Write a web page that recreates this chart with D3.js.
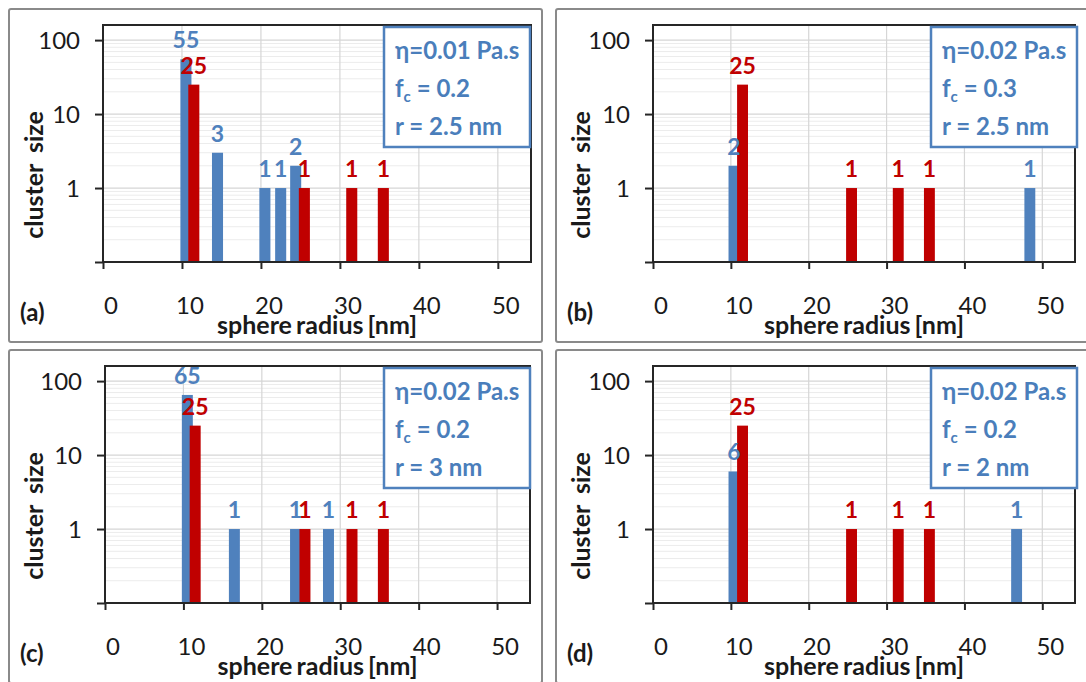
<!DOCTYPE html>
<html><head><meta charset="utf-8">
<script src="https://cdn.jsdelivr.net/npm/d3@7"></script>
<style>
body{margin:0;background:#fff;}
svg{display:block;font-family:Lato,"Open Sans",sans-serif;}
</style>
</head><body>
<svg id="chart" width="1086" height="682"></svg>
<script>
// ---- data ----
const xTicks = [0, 10, 20, 30, 40, 50];
const yTicks = [1, 10, 100];
const yTickLabels = ["1", "10", "100"];
const panelLabels = ["(a)", "(b)", "(c)", "(d)"];
const viscosityText = ["η=0.01 Pa.s", "η=0.02 Pa.s", "η=0.02 Pa.s", "η=0.02 Pa.s"];
const fcText = ["0.2", "0.3", "0.2", "0.2"];
const rText = ["2.5 nm", "2.5 nm", "3 nm", "2 nm"];
const xTitle = "sphere radius [nm]";
const yTitle = "cluster size";

const blueRadiusA = [10.5, 14.5, 20.5, 22.5, 24.4];
const blueSizeA   = [55, 3, 1, 1, 2];
const blueRadiusB = [10.4, 48.4];
const blueSizeB   = [2, 1];
const blueRadiusC = [10.5, 16.5, 24.3, 28.5];
const blueSizeC   = [65, 1, 1, 1];
const blueRadiusD = [10.4, 46.7];
const blueSizeD   = [6, 1];
const redRadius   = [11.5, 25.5, 31.5, 35.5];
const redSizeA    = [25, 1, 1, 1];
const redSizeB    = [25, 1, 1, 1];
const redSizeC    = [25, 1, 1, 1];
const redSizeD    = [25, 1, 1, 1];

const blueRadius = [blueRadiusA, blueRadiusB, blueRadiusC, blueRadiusD];
const blueSize = [blueSizeA, blueSizeB, blueSizeC, blueSizeD];
const redSize = [redSizeA, redSizeB, redSizeC, redSizeD];

// ---- layout ----
const origins = [[9, 9], [556, 9], [9, 350], [556, 350]];
const plotLeft = [94, 97, 96, 97];
const plotRight = [522, 519, 521, 519];
const frameW = 533, frameH = 333;
const plotTop = 16, plotBottom = 253;
const BLUE = "#4f81bd", RED = "#c00000";
const barHalf = 0.7;

const svg = d3.select("#chart");

for (let p = 0; p < 4; p++) {
  const g = svg.append("g").attr("transform", `translate(${origins[p][0]},${origins[p][1]})`);
  g.append("rect").attr("x", 0).attr("y", 0).attr("width", frameW).attr("height", frameH)
    .attr("rx", 2).attr("fill", "#fff").attr("stroke", "#8a8a8a").attr("stroke-width", 2);

  const x = d3.scaleLinear().domain([0, 54.2]).range([plotLeft[p], plotRight[p]]);
  const y = d3.scaleLog().domain([0.1, 160]).range([plotBottom, plotTop]);

  // minor horizontal grid
  const minor = [];
  [0.1, 1, 10, 100].forEach(d => { for (let k = 2; k <= 9; k++) { const v = d * k; if (v < 160) minor.push(v); } });
  g.append("g").selectAll("line").data(minor).join("line")
    .attr("x1", plotLeft[p]).attr("x2", plotRight[p])
    .attr("y1", d => y(d)).attr("y2", d => y(d))
    .attr("stroke", "#ececec").attr("stroke-width", 1);
  // major horizontal grid
  g.append("g").selectAll("line").data(yTicks).join("line")
    .attr("x1", plotLeft[p]).attr("x2", plotRight[p])
    .attr("y1", d => y(d)).attr("y2", d => y(d))
    .attr("stroke", "#d6d6d6").attr("stroke-width", 1.2);
  // vertical grid
  g.append("g").selectAll("line").data(xTicks.slice(1)).join("line")
    .attr("x1", d => x(d)).attr("x2", d => x(d))
    .attr("y1", plotTop).attr("y2", plotBottom)
    .attr("stroke", "#d6d6d6").attr("stroke-width", 1.2);

  // bars
  const blue = blueRadius[p].map((r, i) => ({ r, v: blueSize[p][i] }));
  const red = redRadius.map((r, i) => ({ r, v: redSize[p][i] }));
  g.append("g").selectAll("rect").data(blue).join("rect")
    .attr("x", d => x(d.r - barHalf)).attr("width", d => x(d.r + barHalf) - x(d.r - barHalf))
    .attr("y", d => y(d.v)).attr("height", d => plotBottom - y(d.v)).attr("fill", BLUE);
  g.append("g").selectAll("rect").data(red).join("rect")
    .attr("x", d => x(d.r - barHalf)).attr("width", d => x(d.r + barHalf) - x(d.r - barHalf))
    .attr("y", d => y(d.v)).attr("height", d => plotBottom - y(d.v)).attr("fill", RED);

  // plot border
  g.append("rect").attr("x", plotLeft[p]).attr("y", plotTop)
    .attr("width", plotRight[p] - plotLeft[p]).attr("height", plotBottom - plotTop)
    .attr("fill", "none").attr("stroke", "#262626").attr("stroke-width", 2);

  // axes
  const yAxis = d3.axisLeft(y).tickValues([0.1, 1, 10, 100]).tickSize(8).tickFormat("");
  const ya = g.append("g").attr("transform", `translate(${plotLeft[p]},0)`).call(yAxis);
  ya.select(".domain").remove();
  ya.selectAll("line").attr("stroke", "#262626").attr("stroke-width", 2);
  const xAxis = d3.axisBottom(x).tickValues(xTicks).tickSize(7).tickFormat("");
  const xa = g.append("g").attr("transform", `translate(0,${plotBottom})`).call(xAxis);
  xa.select(".domain").remove();
  xa.selectAll("line").attr("stroke", "#262626").attr("stroke-width", 2);

  // tick labels
  g.append("g").selectAll("text").data(yTicks).join("text")
    .attr("x", plotLeft[p] - 23).attr("y", d => y(d)).attr("dy", "0.36em")
    .attr("text-anchor", "end").attr("font-size", 24).attr("fill", "#1a1a1a")
    .text((d, i) => yTickLabels[i]);
  g.append("g").selectAll("text").data(xTicks).join("text")
    .attr("x", d => x(d) + 8).attr("y", 305)
    .attr("text-anchor", "middle").attr("font-size", 24).attr("fill", "#1a1a1a")
    .text(d => d);

  // titles
  g.append("text").attr("x", (plotLeft[p] + plotRight[p]) / 2).attr("y", 325)
    .attr("text-anchor", "middle").attr("font-size", 25).attr("font-weight", "bold")
    .attr("fill", "#1a1a1a").attr("word-spacing", -2).text(xTitle);
  g.append("text").attr("transform", "translate(34,166) rotate(-90)")
    .attr("text-anchor", "middle").attr("font-size", 25).attr("font-weight", "bold")
    .attr("fill", "#1a1a1a").attr("word-spacing", 5).text(yTitle);
  g.append("text").attr("x", 11).attr("y", 312).attr("font-size", 24).attr("font-weight", "bold")
    .attr("fill", "#1a1a1a").text(panelLabels[p]);

  // bar labels
  g.append("g").selectAll("text").data(blue).join("text")
    .attr("x", d => x(d.r)).attr("y", d => y(d.v) - 11)
    .attr("text-anchor", "middle").attr("font-size", 23).attr("font-weight", "bold")
    .attr("fill", BLUE).text(d => d.v);
  g.append("g").selectAll("text").data(red).join("text")
    .attr("x", d => x(d.r)).attr("y", d => y(d.v) - 11)
    .attr("text-anchor", "middle").attr("font-size", 23).attr("font-weight", "bold")
    .attr("fill", RED).text(d => d.v);

  // legend box
  const lx = 375, ly = 18, lw = 146, lh = 120;
  g.append("rect").attr("x", lx).attr("y", ly).attr("width", lw).attr("height", lh)
    .attr("fill", "#fff").attr("stroke", BLUE).attr("stroke-width", 2.5);
  const tcol = "#4a7ebb";
  g.append("text").attr("x", lx + 11).attr("y", 50).attr("font-size", 24).attr("font-weight", "bold")
    .attr("fill", tcol).text(viscosityText[p]);
  const fc = g.append("text").attr("x", lx + 11).attr("y", 88).attr("font-size", 24).attr("font-weight", "bold")
    .attr("fill", tcol);
  fc.append("tspan").text("f");
  fc.append("tspan").attr("font-size", 15).attr("dy", 5).text("c");
  fc.append("tspan").attr("dy", -5).text(" = " + fcText[p]);
  g.append("text").attr("x", lx + 11).attr("y", 126).attr("font-size", 24).attr("font-weight", "bold")
    .attr("fill", tcol).text("r = " + rText[p]);
}
</script>
</body></html>
